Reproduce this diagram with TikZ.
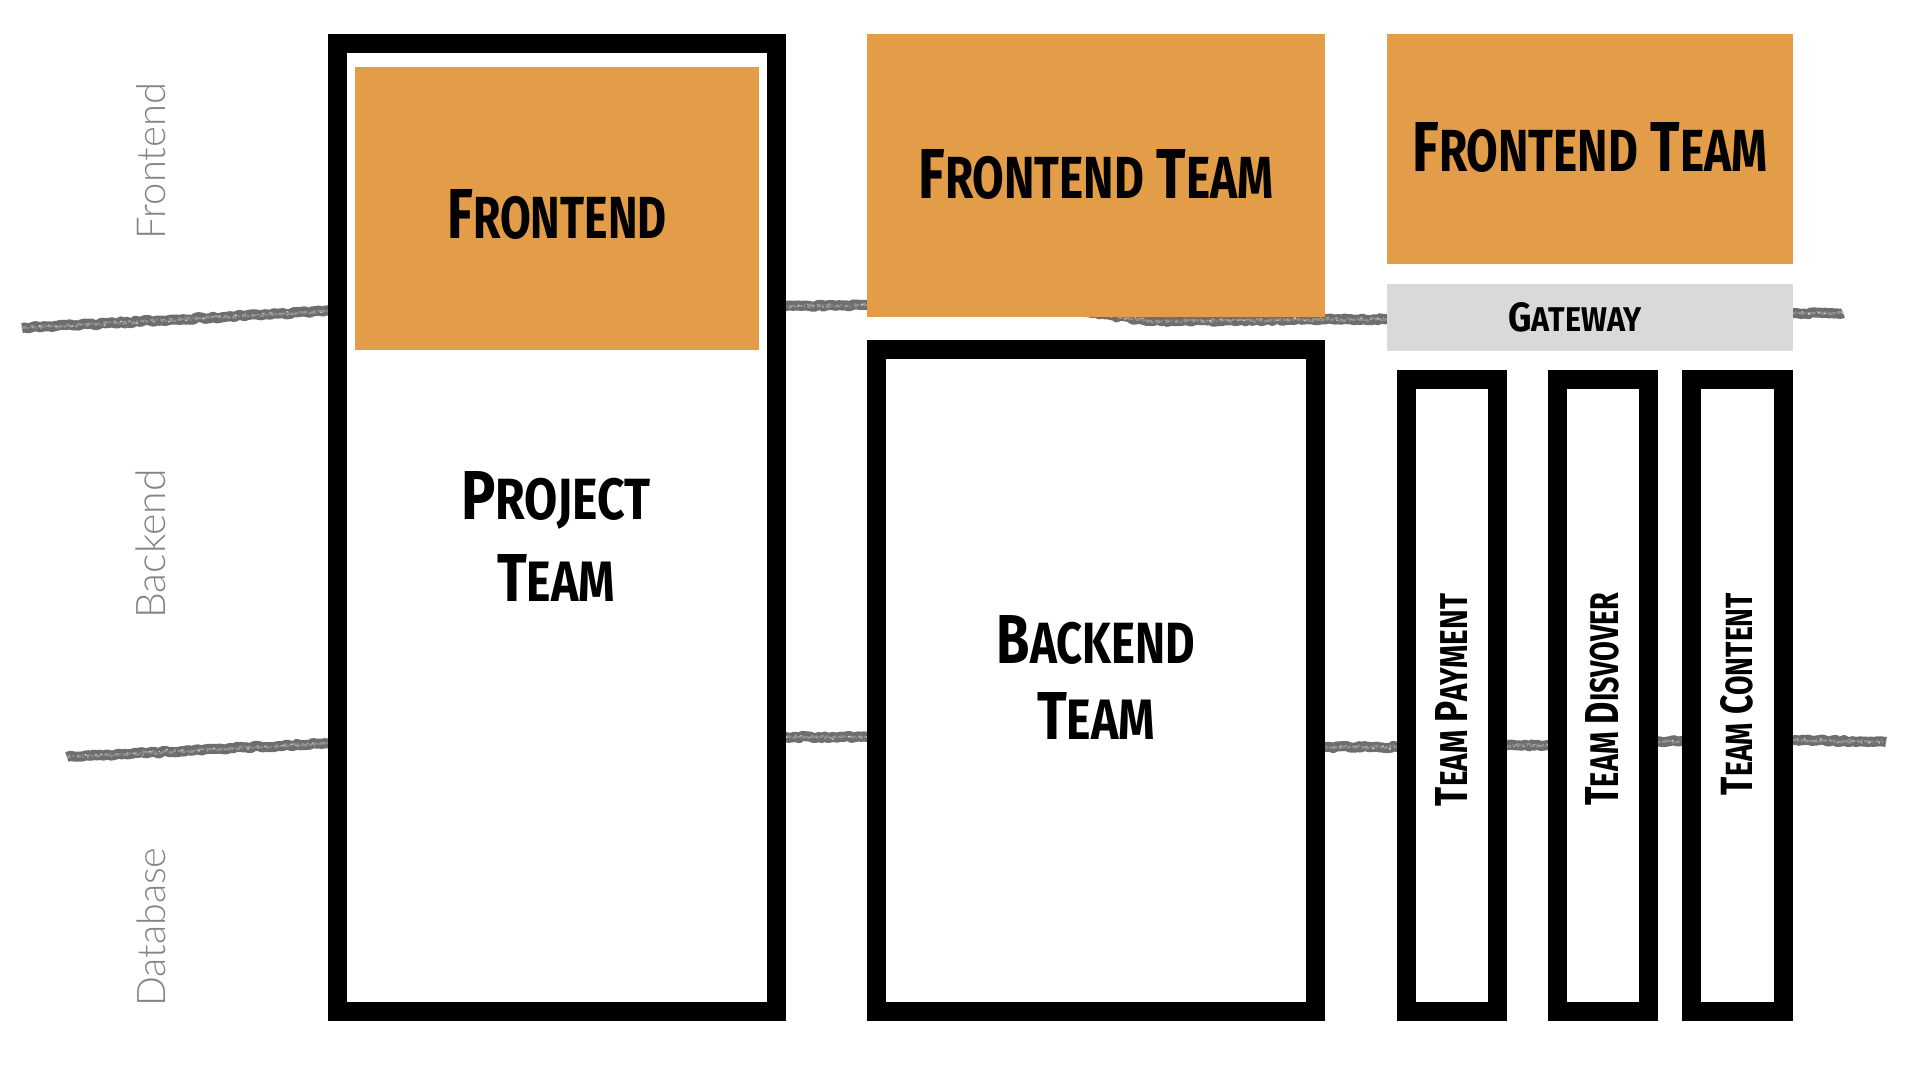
\documentclass[tikz,border=0pt]{standalone}
\usepackage{fontspec}
\usepackage{graphicx}
\usetikzlibrary{decorations.pathmorphing}
\newfontfamily\headfont{Fira Sans}
\IfFontExistsTF{Lato Light}{\newfontfamily\labelfont{Lato Light}}{%
  \IfFontExistsTF{Open Sans Light}{\newfontfamily\labelfont{Open Sans Light}}{\newfontfamily\labelfont{Lato}}}
\definecolor{orng}{HTML}{E39D48}
\definecolor{gw}{HTML}{D9D9D9}
\definecolor{chalk}{HTML}{6E6E6E}
\definecolor{lbl}{HTML}{858585}
\newcommand\sck[2]{#1{\fontsize{8.4}{10}\selectfont #2}}
\newcommand\hd[3]{\resizebox{#1pt}{#2pt}{\headfont\bfseries\fontsize{10}{12}\selectfont #3}}
\tikzset{
  frame/.style={draw=black, fill=white, line width=19pt, inner sep=0pt},
  orangebox/.style={fill=orng, inner sep=0pt},
  gatebox/.style={fill=gw, inner sep=0pt},
  title/.style={inner sep=0pt, text=black},
  side/.style={inner sep=0pt, rotate=90, text=lbl, font=\labelfont},
  chalkline/.style={draw=chalk, line width=10pt, line join=round, decorate,
    decoration={random steps, segment length=3pt, amplitude=1.2pt}},
  chalkedge/.style={draw=chalk!75, line width=2pt, dash pattern=on 4pt off 2pt on 1pt off 3pt, decorate,
    decoration={random steps, segment length=3pt, amplitude=1.5pt}},
  chalkgap/.style={draw=white, line width=1.2pt, dash pattern=on 2pt off 9pt on 1pt off 6pt, decorate,
    decoration={random steps, segment length=4pt, amplitude=2pt}, opacity=0.7}
}
\begin{document}
\begin{tikzpicture}[x=1pt,y=-1pt]
\pgfmathsetseed{7}
\useasboundingbox (0,0) rectangle (1920,1080);
\fill[white] (0,0) rectangle (1920,1080);
% chalk lines
\coordinate (a1) at (22,328);
\coordinate (a2) at (330,311);
\coordinate (a3) at (800,306);
\coordinate (a4) at (867,305);
\coordinate (a5) at (1040,305);
\coordinate (a6) at (1150,321);
\coordinate (a7) at (1387,319);
\coordinate (a8) at (1793,313);
\coordinate (a9) at (1843,313);
\coordinate (b1) at (67,757);
\coordinate (b2) at (330,743);
\coordinate (b3) at (786,737);
\coordinate (b4) at (867,737);
\coordinate (b5) at (1325,747);
\coordinate (b6) at (1397,747);
\coordinate (b7) at (1548,745);
\coordinate (b8) at (1682,741);
\coordinate (b9) at (1793,740);
\coordinate (b10) at (1886,742);
\foreach \s in {chalkline, chalkedge, chalkgap}{
  \draw[\s] (a1) -- (a2) -- (a3) -- (a4) -- (a5) -- (a6) -- (a7) -- (a8) -- (a9);
  \draw[\s] (b1) -- (b2) -- (b3) -- (b4) -- (b5) -- (b6) -- (b7) -- (b8) -- (b9) -- (b10);
}
\draw[chalkedge, yshift=5pt] (a1) -- (a2) -- (a3) -- (a4) -- (a5) -- (a6) -- (a7) -- (a8) -- (a9);
\draw[chalkedge, yshift=5pt] (b1) -- (b2) -- (b3) -- (b4) -- (b5) -- (b6) -- (b7) -- (b8) -- (b9) -- (b10);
% frames
\node[frame, minimum width=439pt, minimum height=968pt] (project) at (557,527.5) {};
\node[frame, minimum width=439pt, minimum height=662pt] (backend) at (1096,680.5) {};
\node[frame, minimum width=91pt, minimum height=632pt] (pay) at (1452,695.5) {};
\node[frame, minimum width=91pt, minimum height=632pt] (disc) at (1603,695.5) {};
\node[frame, minimum width=92pt, minimum height=632pt] (cont) at (1737.5,695.5) {};
% coloured boxes
\node[orangebox, minimum width=404pt, minimum height=283pt] (fe) at (557,208.5) {};
\node[orangebox, minimum width=458pt, minimum height=283pt] (mfe) at (1096,175.5) {};
\node[orangebox, minimum width=406pt, minimum height=230pt] (rfe) at (1590,149) {};
\node[gatebox, minimum width=406pt, minimum height=67pt] (gate) at (1590,317.5) {};
% titles
\node[title] (tfe) at (557,214) {\hd{219}{49}{\sck{F}{RONTEND}}};
\node[title] (tpt1) at (556,500) {\hd{189}{48}{\sck{P}{ROJECT}}};
\node[title] (tpt2) at (556,578) {\hd{118}{47}{\sck{T}{EAM}}};
\node[title] (tmf) at (1096,174) {\hd{355}{49}{\sck{F}{RONTEND} \sck{T}{EAM}}};
\node[title] (trf) at (1590,147) {\hd{355}{49}{\sck{F}{RONTEND} \sck{T}{EAM}}};
\node[title] (tgw) at (1575,317) {\hd{133}{29}{\sck{G}{ATEWAY}}};
\node[title] (tbt1) at (1096,640) {\hd{198}{48}{\sck{B}{ACKEND}}};
\node[title] (tbt2) at (1096,716) {\hd{118}{47}{\sck{T}{EAM}}};
\node[title, rotate=90] (tp) at (1451,700) {\hd{212}{32}{\sck{T}{EAM} \sck{P}{AYMENT}}};
\node[title, rotate=90] (td) at (1602,699) {\hd{213}{33}{\sck{T}{EAM} \sck{D}{ISVOVER}}};
\node[title, rotate=90] (tc) at (1737,694) {\hd{202}{32}{\sck{T}{EAM} \sck{C}{ONTENT}}};
% side labels
\node[side] (lf) at (151,161) {\resizebox{156pt}{!}{Frontend}};
\node[side] (lb) at (151,544) {\resizebox{149pt}{!}{Backend}};
\node[side] (ld) at (151,927) {\resizebox{159pt}{!}{Database}};
\end{tikzpicture}
\end{document}
